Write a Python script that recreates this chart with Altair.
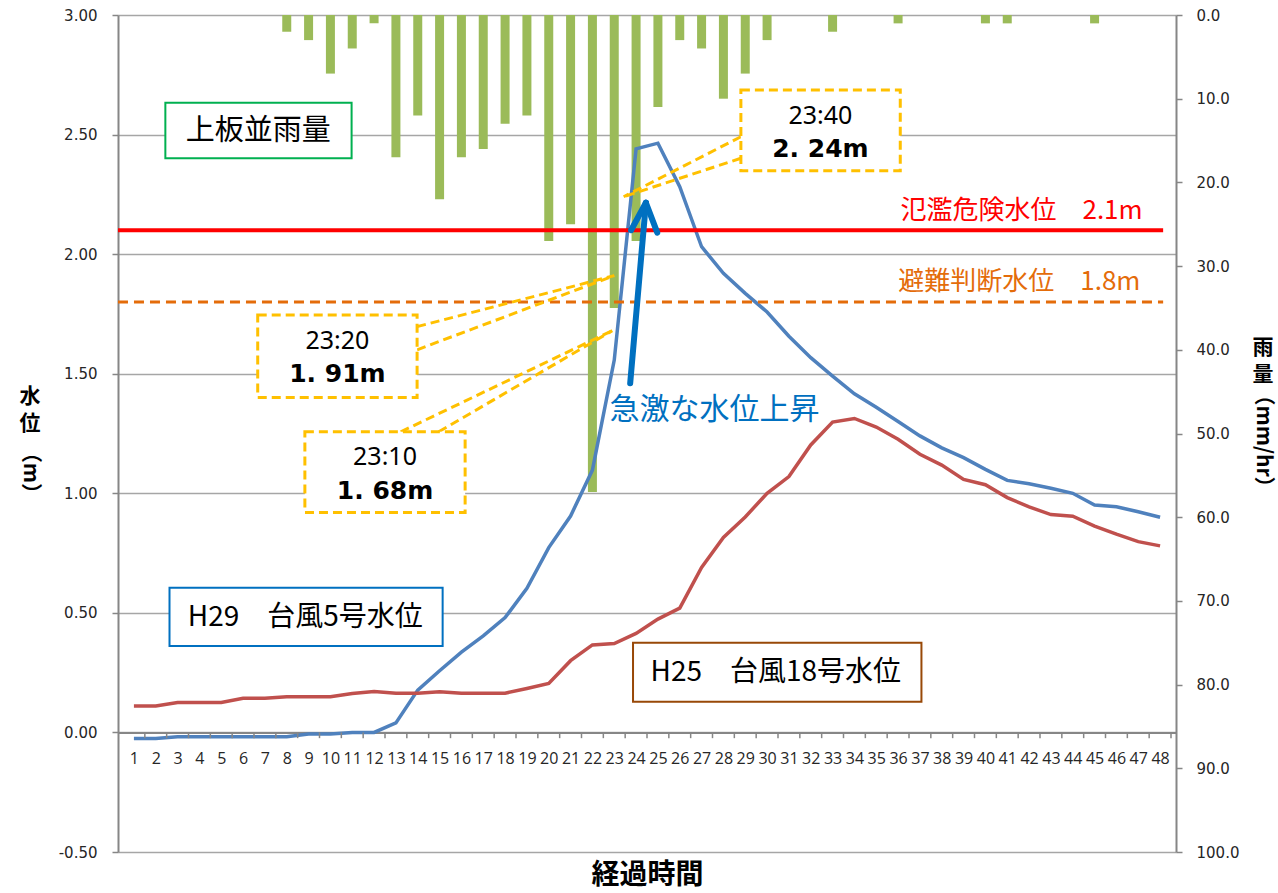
import altair as alt
import pandas as pd

# ---- hourly series (elapsed hour 1-48) ----
hours = list(range(1, 49))
rain_mm = [0, 0, 0, 0, 0, 0, 0, 2, 3, 7, 4, 1,
           17, 12, 22, 17, 16, 13, 12, 27, 25, 57, 35, 27,
           11, 3, 4, 10, 7, 3, 0, 0, 2, 0, 0, 1,
           0, 0, 0, 1, 1, 0, 0, 0, 1, 0, 0, 0]
level_h29 = [-0.025, -0.025, -0.018, -0.018, -0.018, -0.018, -0.018, -0.018, -0.007, -0.007, 0.0, 0.0,
             0.04, 0.177, 0.258, 0.336, 0.404, 0.48, 0.603, 0.773, 0.905, 1.097, 1.557, 2.44,
             2.464, 2.282, 2.031, 1.92, 1.836, 1.758, 1.657, 1.567, 1.49, 1.416, 1.36, 1.30,
             1.24, 1.19, 1.149, 1.10, 1.054, 1.04, 1.021, 1.0, 0.951, 0.944, 0.923, 0.90]
level_h25 = [0.111, 0.111, 0.125, 0.125, 0.125, 0.143, 0.143, 0.149, 0.149, 0.149, 0.163, 0.171,
             0.164, 0.164, 0.17, 0.164, 0.164, 0.164, 0.184, 0.205, 0.30, 0.366, 0.372, 0.414,
             0.474, 0.52, 0.69, 0.815, 0.901, 1.0, 1.07, 1.202, 1.298, 1.313, 1.277, 1.226,
             1.163, 1.118, 1.058, 1.036, 0.982, 0.943, 0.911, 0.904, 0.863, 0.829, 0.798, 0.78]

level_ticks = [-0.5, 0.0, 0.5, 1.0, 1.5, 2.0, 2.5, 3.0]
rain_ticks = [0, 10, 20, 30, 40, 50, 60, 70, 80, 90, 100]

danger_level = 2.1      # 氾濫危険水位
evac_level = 1.8        # 避難判断水位
callout_times = ["23:10", "23:20", "23:40"]
callout_levels = [1.68, 1.91, 2.24]

JP = "Noto Sans CJK JP"
AX = "#868686"
TXT = "#262626"

df = pd.DataFrame({"hour": hours, "rain": rain_mm, "h29": level_h29, "h25": level_h25})

x_scale = alt.Scale(domain=[0.5, 48.5], nice=False, zero=False)
y_scale = alt.Scale(domain=[-0.5, 3.0], nice=False, zero=False)
rain_scale = alt.Scale(domain=[0, 100], reverse=True, nice=False, zero=True)

# ---- rainfall bars hanging from the top (right axis) ----
bars = alt.Chart(df).mark_bar(color="#9BBB59", size=9).encode(
    x=alt.X("hour:Q", scale=x_scale, axis=None),
    y=alt.Y("rain:Q", scale=rain_scale,
            axis=alt.Axis(orient="right", values=rain_ticks, format=".1f", title=None, grid=False,
                          tickSize=6, tickWidth=1.5, tickColor=AX, domainColor=AX, domainWidth=2,
                          labelFont="DejaVu Sans", labelFontSize=15, labelColor=TXT, labelPadding=14)),
)

# ---- water level lines (left axis) ----
x_axis = alt.Axis(values=hours, format="d", offset=-119.6, grid=False, ticks=False, tickSize=0,
                  domainColor=AX, domainWidth=2, labelFont="Open Sans", labelFontSize=16,
                  labelColor=TXT, labelPadding=18, labelAngle=0, labelOverlap=False, labelFlush=False,
                  title="経過時間", titleFont=JP, titleFontSize=28, titleFontWeight="bold",
                  titleColor="black", titleY=143, titleBaseline="middle")
y_axis = alt.Axis(orient="left", values=level_ticks, title=None, grid=True,
                  labelExpr="replace(format(datum.value, '.2f'), '\u2212', '-')",
                  gridColor="#A6A6A6", gridWidth=1.5, domainColor=AX, domainWidth=2,
                  tickColor=AX, tickSize=6, tickWidth=1.5,
                  labelFont="DejaVu Sans", labelFontSize=15, labelColor=TXT, labelPadding=15)

line_h29 = alt.Chart(df).mark_line(color="#4F81BD", strokeWidth=3.5).encode(
    x=alt.X("hour:Q", scale=x_scale, axis=x_axis),
    y=alt.Y("h29:Q", scale=y_scale, axis=y_axis),
)
line_h25 = alt.Chart(df).mark_line(color="#C0504D", strokeWidth=3.5).encode(
    x=alt.X("hour:Q", scale=x_scale, axis=None),
    y=alt.Y("h25:Q", scale=y_scale, axis=None),
)

# category boundary ticks under the 0 m axis line
tick_df = pd.DataFrame({"b": [h + 0.5 for h in hours], "y0": 0.0, "y1": -0.024})
cat_ticks = alt.Chart(tick_df).mark_rule(color=AX, strokeWidth=1.5).encode(
    x=alt.X("b:Q", scale=x_scale, axis=None),
    y=alt.Y("y0:Q", scale=y_scale, axis=None),
    y2="y1:Q",
)


def seg(x1, y1, x2, y2, color, width, dash=None, cap="butt"):
    kw = dict(color=color, strokeWidth=width, strokeCap=cap)
    if dash:
        kw["strokeDash"] = dash
    d = pd.DataFrame({"x": [x1], "y": [y1], "x2": [x2], "y2": [y2]})
    return alt.Chart(d).mark_rule(**kw).encode(
        x=alt.X("x:Q", scale=x_scale, axis=None),
        y=alt.Y("y:Q", scale=y_scale, axis=None),
        x2="x2:Q", y2="y2:Q",
    )


def box(x1, x2, y1, y2, stroke, width=2, dash=None):
    kw = dict(fill="white", stroke=stroke, strokeWidth=width)
    if dash:
        kw["strokeDash"] = dash
    d = pd.DataFrame({"x": [x1], "x2": [x2], "y": [y1], "y2": [y2]})
    return alt.Chart(d).mark_rect(**kw).encode(
        x=alt.X("x:Q", scale=x_scale, axis=None),
        y=alt.Y("y:Q", scale=y_scale, axis=None),
        x2="x2:Q", y2="y2:Q",
    )


def label(x, y, text, size, color="black", weight="normal", font=JP, align="center"):
    d = pd.DataFrame({"x": [x], "y": [y], "t": [text]})
    return alt.Chart(d).mark_text(font=font, fontSize=size, fontWeight=weight, color=color,
                                  align=align, baseline="middle").encode(
        x=alt.X("x:Q", scale=x_scale, axis=None),
        y=alt.Y("y:Q", scale=y_scale, axis=None),
        text="t:N",
    )


def pixel_text(px, py, text, size, angle=0, weight="bold"):
    d = pd.DataFrame({"t": [text]})
    return alt.Chart(d).mark_text(font=JP, fontSize=size, fontWeight=weight, color="black",
                                  align="center", baseline="middle", angle=angle).encode(
        x=alt.value(px), y=alt.value(py), text="t:N")


# ---- threshold levels ----
danger = seg(0.27, danger_level, 48.14, danger_level, "#FF0000", 4)
evac = seg(0.27, evac_level, 48.14, evac_level, "#E46C0A", 3, dash=[10, 6])
danger_txt = label(47.2, danger_level + 0.08, f"氾濫危険水位\u3000{danger_level}m", 26,
                   color="#FF0000", align="right")
evac_txt = label(47.1, evac_level + 0.084, f"避難判断水位\u3000{evac_level}m", 26,
                 color="#E46C0A", align="right")

# ---- series name boxes ----
name_layers = [
    box(2.44, 10.97, 2.401, 2.633, "#00B050"),
    label(6.70, 2.517, "上板並雨量", 29),
    box(2.63, 15.14, 0.361, 0.605, "#0070C0"),
    label(8.85, 0.478, "H29\u3000台風5号水位", 28),
    box(23.86, 37.07, 0.128, 0.375, "#984807"),
    label(30.40, 0.250, "H25\u3000台風18号水位", 28),
]

# ---- dashed callouts pointing at the rising limb ----
CALL = "#FFC000"
DASH = [9, 5]


def reading(v):
    return f"{v:.2f}".replace(".", ". ") + "m"


callout_layers = []
# 23:10
tip = (22.91, callout_levels[0])
callout_layers += [
    seg(13.22, 1.257, tip[0], tip[1], CALL, 3, DASH),
    seg(14.96, 1.257, tip[0], tip[1], CALL, 3, DASH),
    box(8.83, 16.17, 0.920, 1.257, CALL, 3, DASH),
    label(12.5, 1.150, callout_times[0], 25, font="Noto Sans"),
    label(12.5, 1.009, reading(callout_levels[0]), 25, weight="bold", font="DejaVu Sans"),
]
# 23:20
tip = (23.0, callout_levels[1])
callout_layers += [
    seg(13.97, 1.697, tip[0], tip[1], CALL, 3, DASH),
    seg(13.97, 1.600, tip[0], tip[1], CALL, 3, DASH),
    box(6.67, 13.97, 1.401, 1.745, CALL, 3, DASH),
    label(10.32, 1.637, callout_times[1], 25, font="Noto Sans"),
    label(10.32, 1.499, reading(callout_levels[1]), 25, weight="bold", font="DejaVu Sans"),
]
# 23:40
tip = (23.43, callout_levels[2])
callout_layers += [
    seg(28.80, 2.491, tip[0], tip[1], CALL, 3, DASH),
    seg(28.80, 2.401, tip[0], tip[1], CALL, 3, DASH),
    box(28.80, 36.10, 2.349, 2.686, CALL, 3, DASH),
    label(32.44, 2.578, callout_times[2], 25, font="Noto Sans"),
    label(32.44, 2.440, reading(callout_levels[2]), 25, weight="bold", font="DejaVu Sans"),
]

# ---- rapid rise arrow ----
ARROW = "#0070C0"
arrow_layers = [
    seg(23.73, 1.460, 24.45, 2.215, ARROW, 6, cap="round"),
    seg(24.45, 2.215, 23.77, 2.100, ARROW, 6, cap="round"),
    seg(24.45, 2.215, 24.97, 2.090, ARROW, 6, cap="round"),
    label(22.78, 1.349, "急激な水位上昇", 30, color=ARROW, align="left"),
]

# ---- axis titles (upright kanji, rotated latin) ----
title_layers = [
    pixel_text(-88, 382, "水", 21),
    pixel_text(-88, 409, "位", 21),
    pixel_text(-88, 458, "（m）", 21, angle=90),
    pixel_text(1145, 333, "雨", 21),
    pixel_text(1145, 360, "量", 21),
    pixel_text(1145, 426, "（mm/hr）", 21, angle=90),
]

levels = alt.layer(
    line_h29, cat_ticks, danger, evac, danger_txt, evac_txt, line_h25,
    *name_layers, *callout_layers, *arrow_layers, *title_layers,
).resolve_axis(x="independent", y="independent")

chart = alt.layer(bars, levels).resolve_scale(y="independent").resolve_axis(
    x="independent", y="independent"
).properties(
    width=1058, height=837,
    padding={"left": 118, "top": 15, "right": 102, "bottom": 41},
    autosize=alt.AutoSizeParams(type="none"),
    background="white",
).configure_view(stroke=None)

chart.save("out.html", embed_options={"renderer": "svg", "actions": False})
